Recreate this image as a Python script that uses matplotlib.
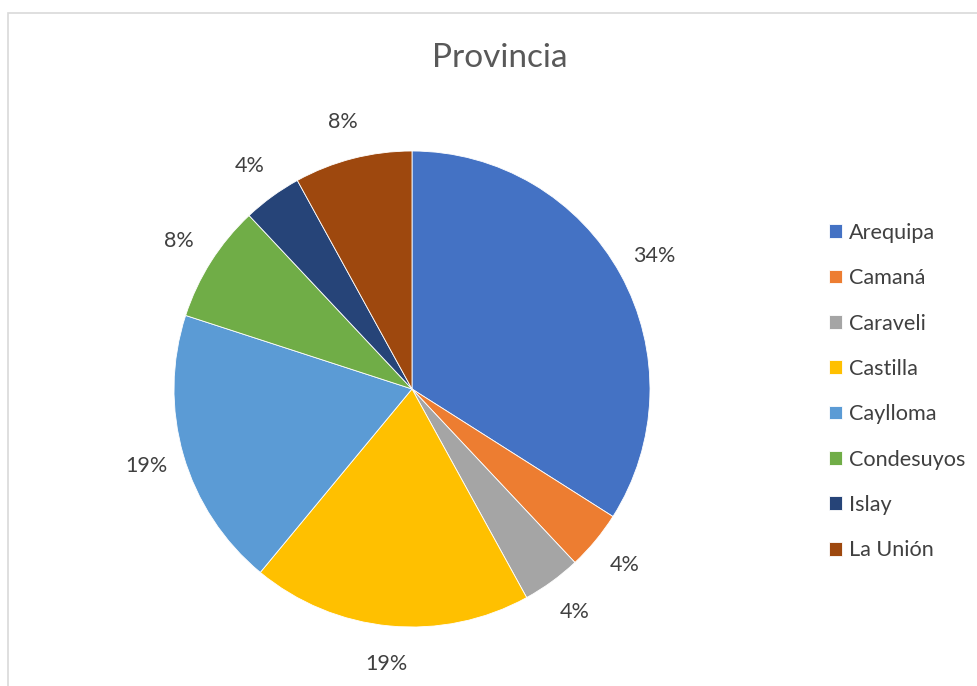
import matplotlib
matplotlib.use("Agg")
import matplotlib.pyplot as plt
from matplotlib.patches import Rectangle

# Province shares (percent)
provincias = ["Arequipa", "Camaná", "Caraveli", "Castilla", "Caylloma",
              "Condesuyos", "Islay", "La Unión"]
porcentajes = [34, 4, 4, 19, 19, 8, 4, 8]
colores = ["#4472C4", "#ED7D31", "#A5A5A5", "#FFC000", "#5B9BD5",
           "#70AD47", "#264478", "#9E480E"]

plt.rcParams["font.family"] = ["Lato", "DejaVu Sans"]

W, H = 977, 686
fig = plt.figure(figsize=(W / 100, H / 100), dpi=100)
fig.patch.set_facecolor("white")

# chart frame
fig.patches.append(Rectangle((8 / W, -0.1), 1.2, 1 - 13 / H + 0.1,
                             transform=fig.transFigure, fill=False,
                             edgecolor="#d9d9d9", linewidth=1.2))

cx, cy, r = 412, 389, 238
ax = fig.add_axes([(cx - r) / W, (H - cy - r) / H, 2 * r / W, 2 * r / H])
wedges, _, autotexts = ax.pie(
    porcentajes, colors=colores, startangle=90, counterclock=False,
    autopct=lambda p: f"{p:.0f}%", pctdistance=1.16,
    wedgeprops=dict(linewidth=0.6, edgecolor="white"),
    textprops=dict(color="#404040", fontsize=15.5))
ax.set_xlim(-1, 1)
ax.set_ylim(-1, 1)
ax.set_aspect("equal")

fig.text(500 / W, 1 - 58 / H, "Provincia", ha="center", va="center",
         fontsize=24, color="#595959")

leg = fig.legend(wedges, provincias, loc="upper left",
                 bbox_to_anchor=(818 / W, 1 - 212 / H), frameon=False,
                 fontsize=15.6, labelspacing=1.17, handlelength=0.6,
                 handleheight=0.6, handletextpad=0.35, borderpad=0)
for t in leg.get_texts():
    t.set_color("#404040")

fig.savefig("out.png", dpi=100)
